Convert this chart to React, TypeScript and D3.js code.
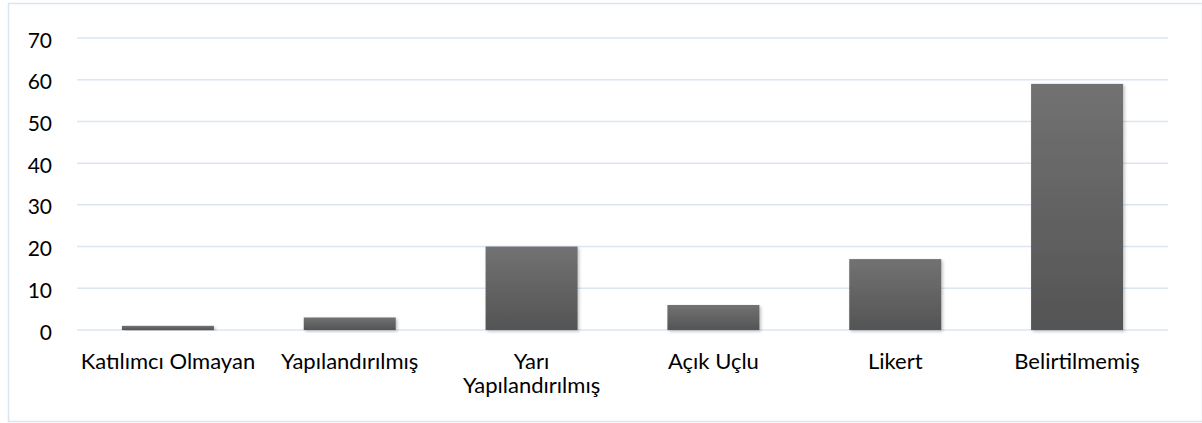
// @ts-nocheck
import * as d3 from "d3";
import { useRef, useEffect } from "react";

const categories = [
  "Katılımcı Olmayan",
  "Yapılandırılmış",
  "Yarı Yapılandırılmış",
  "Açık Uçlu",
  "Likert",
  "Belirtilmemiş",
];
const values = [1, 3, 20, 6, 17, 59];
const yTicks = [0, 10, 20, 30, 40, 50, 60, 70];

const App = () => {
  const svgRef = useRef();

  useEffect(() => {
    const width = 1202;
    const height = 423;
    const left = 77;
    const right = 1168;
    const top = 38;
    const bottom = 330;
    const font = "Lato, 'Open Sans', sans-serif";

    const svg = d3.select(svgRef.current);
    svg.selectAll("*").remove();
    svg.attr("width", width).attr("height", height);

    const defs = svg.append("defs");
    const grad = defs
      .append("linearGradient")
      .attr("id", "barGrad")
      .attr("x1", 0)
      .attr("y1", 0)
      .attr("x2", 0)
      .attr("y2", 1);
    grad.append("stop").attr("offset", "0%").attr("stop-color", "#727272");
    grad.append("stop").attr("offset", "100%").attr("stop-color", "#545454");

    const shadow = defs
      .append("filter")
      .attr("id", "barShadow")
      .attr("x", "-10%")
      .attr("y", "-10%")
      .attr("width", "130%")
      .attr("height", "130%");
    shadow
      .append("feDropShadow")
      .attr("dx", 1.5)
      .attr("dy", 1.5)
      .attr("stdDeviation", 1.5)
      .attr("flood-color", "#000")
      .attr("flood-opacity", 0.25);

    // chart border
    svg
      .append("rect")
      .attr("x", 8.5)
      .attr("y", 3.5)
      .attr("width", 1194)
      .attr("height", 418)
      .attr("fill", "white")
      .attr("stroke", "#dbe5f1")
      .attr("stroke-width", 1.5);

    const x = d3
      .scaleBand()
      .domain(categories)
      .range([left, right])
      .paddingInner(0.494)
      .paddingOuter(0.247);
    const y = d3.scaleLinear().domain([0, 70]).range([bottom, top]);

    // gridlines
    svg
      .append("g")
      .selectAll("line")
      .data(yTicks)
      .enter()
      .append("line")
      .attr("x1", left)
      .attr("x2", right)
      .attr("y1", (d) => y(d))
      .attr("y2", (d) => y(d))
      .attr("stroke", "#dce6f2")
      .attr("stroke-width", 1.5);

    // y labels
    svg
      .append("g")
      .selectAll("text")
      .data(yTicks)
      .enter()
      .append("text")
      .attr("x", 52)
      .attr("y", (d) => y(d) + 2)
      .attr("dy", "0.36em")
      .attr("text-anchor", "end")
      .attr("font-family", font)
      .attr("font-size", 21)
      .attr("fill", "#000")
      .text((d) => d);

    // bars
    svg
      .append("g")
      .selectAll("rect")
      .data(values)
      .enter()
      .append("rect")
      .attr("x", (d, i) => x(categories[i]))
      .attr("y", (d) => y(d))
      .attr("width", x.bandwidth())
      .attr("height", (d) => bottom - y(d))
      .attr("fill", "url(#barGrad)")
      .attr("filter", "url(#barShadow)");

    // x labels, wrapped like the original
    const labelLines = (c) =>
      c === "Yarı Yapılandırılmış" ? ["Yarı", "Yapılandırılmış"] : [c];

    const xl = svg
      .append("g")
      .selectAll("text")
      .data(categories)
      .enter()
      .append("text")
      .attr("x", (d) => x(d) + x.bandwidth() / 2)
      .attr("y", 369)
      .attr("text-anchor", "middle")
      .attr("font-family", font)
      .attr("font-size", 22)
      .attr("fill", "#000");

    xl.each(function (d) {
      const t = d3.select(this);
      labelLines(d).forEach((line, i) => {
        t.append("tspan")
          .attr("x", x(d) + x.bandwidth() / 2)
          .attr("dy", i === 0 ? 0 : 24)
          .text(line);
      });
    });
  }, []);

  return (
    <svg
      ref={svgRef}
      style={{ position: "absolute", left: 0, top: 0, display: "block" }}
    ></svg>
  );
};

export default App;
